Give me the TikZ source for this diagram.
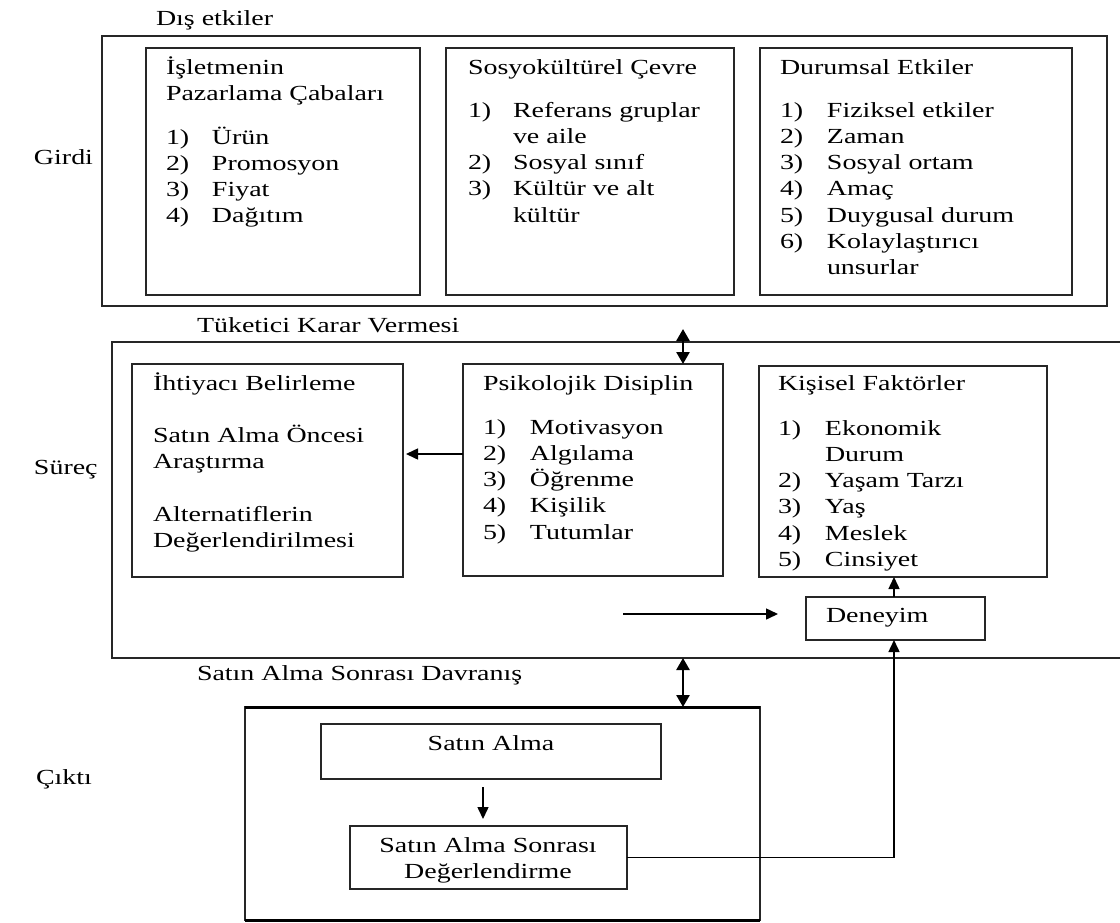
\documentclass[tikz,border=0pt]{standalone}
\usepackage{fontspec}
\setmainfont{Liberation Serif}[FakeStretch=1.3]
\usetikzlibrary{arrows.meta}

\newcommand{\itm}[2]{\makebox[#1][l]{#2}}

\begin{document}
\begin{tikzpicture}[x=1pt,y=-1pt,
  box/.style={draw=black!85, line width=1.5pt, inner sep=0pt, outer sep=0pt, anchor=north west},
  txt/.style={anchor=base west, inner sep=0pt, outer sep=0pt, font=\fontsize{21.5}{26.3}\selectfont, text=black},
  ctxt/.style={anchor=base, inner sep=0pt, outer sep=0pt, font=\fontsize{21.5}{26.3}\selectfont, text=black},
  arr/.style={draw=black, line width=1.5pt, -{Triangle[length=12pt,width=11pt]}},
  dbl/.style={draw=black, line width=2.6pt, {Triangle[length=12pt,width=13pt]}-{Triangle[length=12pt,width=13pt]}}
]
\useasboundingbox (0,0) rectangle (1120,922);

% ---------- input: external influences ----------
\node[txt] (disL) at (156,25) {Dış etkiler};
\node[box, minimum width=1005pt, minimum height=270pt] (outA) at (102,36) {};
\node[box, minimum width=274pt, minimum height=247pt] (firm) at (146,48) {};
\node[box, minimum width=288pt, minimum height=247pt] (socio) at (446,48) {};
\node[box, minimum width=312pt, minimum height=247pt] (situ) at (760,48) {};

\node[txt] (firmT) at (166,74) {\begin{tabular}[t]{@{}l@{}}İşletmenin\\Pazarlama Çabaları\end{tabular}};
\node[txt] (firmL) at (166,144) {\begin{tabular}[t]{@{}l@{}}
\itm{46pt}{1)}Ürün\\ \itm{46pt}{2)}Promosyon\\ \itm{46pt}{3)}Fiyat\\ \itm{46pt}{4)}Dağıtım\end{tabular}};

\node[txt] (socioT) at (468,74) {Sosyokültürel Çevre};
\node[txt] (socioL) at (468,117) {\begin{tabular}[t]{@{}l@{}}
\itm{45pt}{1)}Referans gruplar\\ \itm{45pt}{}ve aile\\ \itm{45pt}{2)}Sosyal sınıf\\ \itm{45pt}{3)}Kültür ve alt\\ \itm{45pt}{}kültür\end{tabular}};

\node[txt] (situT) at (780,74) {Durumsal Etkiler};
\node[txt] (situL) at (780,117) {\begin{tabular}[t]{@{}l@{}}
\itm{47pt}{1)}Fiziksel etkiler\\ \itm{47pt}{2)}Zaman\\ \itm{47pt}{3)}Sosyal ortam\\ \itm{47pt}{4)}Amaç\\ \itm{47pt}{5)}Duygusal durum\\ \itm{47pt}{6)}Kolaylaştırıcı\\ \itm{47pt}{}unsurlar\end{tabular}};

% ---------- process: consumer decision making ----------
\node[txt] (tkvL) at (197,332) {Tüketici Karar Vermesi};
\node[box, minimum width=1013pt, minimum height=316pt] (outB) at (112,342) {};
\node[box, minimum width=271pt, minimum height=213pt] (need) at (132,364) {};
\node[box, minimum width=260pt, minimum height=212pt] (psy) at (463,364) {};
\node[box, minimum width=288pt, minimum height=211pt] (pers) at (759,366) {};
\node[box, minimum width=179pt, minimum height=43pt] (exp) at (806,597) {};

\node[txt] (needT) at (153,390) {\begin{tabular}[t]{@{}l@{}}İhtiyacı Belirleme\\[26.3pt]Satın Alma Öncesi\\Araştırma\\[26.3pt]Alternatiflerin\\Değerlendirilmesi\end{tabular}};

\node[txt] (psyT) at (483,390) {Psikolojik Disiplin};
\node[txt] (psyL) at (483,434) {\begin{tabular}[t]{@{}l@{}}
\itm{47pt}{1)}Motivasyon\\ \itm{47pt}{2)}Algılama\\ \itm{47pt}{3)}Öğrenme\\ \itm{47pt}{4)}Kişilik\\ \itm{47pt}{5)}Tutumlar\end{tabular}};

\node[txt] (persT) at (778,390) {Kişisel Faktörler};
\node[txt] (persL) at (778,435) {\begin{tabular}[t]{@{}l@{}}
\itm{47pt}{1)}Ekonomik\\ \itm{47pt}{}Durum\\ \itm{47pt}{2)}Yaşam Tarzı\\ \itm{47pt}{3)}Yaş\\ \itm{47pt}{4)}Meslek\\ \itm{47pt}{5)}Cinsiyet\end{tabular}};

\node[txt] (expT) at (826,622) {Deneyim};

% ---------- output: post-purchase behaviour ----------
\node[txt] (sasL) at (197,680) {Satın Alma Sonrası Davranış};
\node[box, minimum width=515pt, minimum height=213pt] (outC) at (245,707) {};
\draw[line width=3pt, black] (outC.north west) -- (outC.north east);
\draw[line width=3pt, black] (outC.south west) -- (outC.south east);
\node[box, minimum width=340pt, minimum height=55pt] (buy) at (321,724) {};
\node[ctxt] (buyT) at (491,750) {Satın Alma};
\node[box, minimum width=277pt, minimum height=63pt] (eval) at (350,826) {};
\node[ctxt] (evalT) at (488,852) {\begin{tabular}[t]{@{}c@{}}Satın Alma Sonrası\\Değerlendirme\end{tabular}};

% ---------- side labels ----------
\node[txt] (inL) at (34,164) {Girdi};
\node[txt] (prL) at (34,474) {Süreç};
\node[txt] (ouL) at (36,784) {Çıktı};

% ---------- connectors ----------
\coordinate (up) at (683,329);
\coordinate (mid) at (683,658);
\coordinate (fb) at (894,857.5);
\coordinate (hs) at (623,614);
\coordinate (he) at (778,614);

\draw[dbl] (up) -- (up |- psy.north);
\draw[dbl] (mid) -- (mid |- outC.north);
\draw[arr, shorten >=3pt] ([yshift=16pt]psy.west) -- ([yshift=16pt]psy.west -| need.east);
\draw[arr] (hs) -- (he);
\draw[arr] (fb |- exp.north) -- (fb |- pers.south);
\draw[arr] (eval.east) -- (fb) -- (fb |- exp.south);
\draw[arr, shorten <=8pt, shorten >=7pt] (buy.south -| 483,0) -- (eval.north -| 483,0);
\end{tikzpicture}
\end{document}
